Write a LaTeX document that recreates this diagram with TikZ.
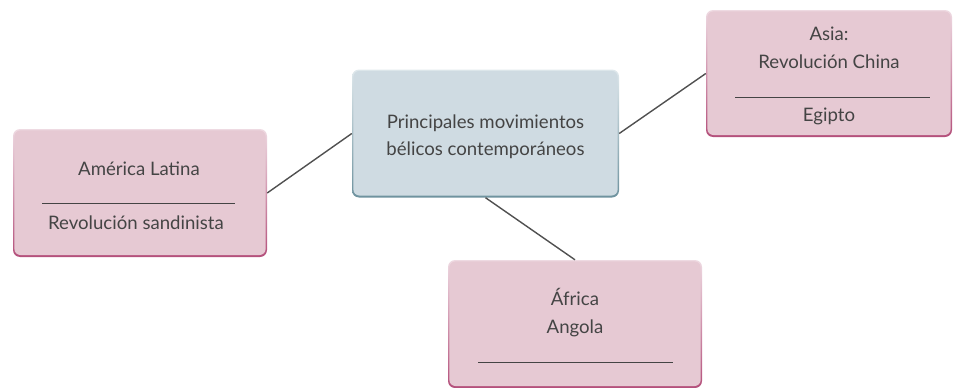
\documentclass[tikz,border=0pt]{standalone}
\usepackage{fontspec}
\setmainfont{Lato}
\definecolor{txt}{HTML}{444444}
\definecolor{pinkfill}{HTML}{E6C9D3}
\definecolor{pinktop}{HTML}{EEDAE2}
\definecolor{pinkbot}{HTML}{B4507B}
\definecolor{bluefill}{HTML}{CFDBE2}
\definecolor{bluetop}{HTML}{DFE8EC}
\definecolor{bluebot}{HTML}{6E929E}
\definecolor{conn}{HTML}{505050}
\tikzset{
  pinkbox/.style={rounded corners=7pt, top color=pinktop, bottom color=pinkbot, inner sep=0pt},
  bluebox/.style={rounded corners=7pt, top color=bluetop, bottom color=bluebot, inner sep=0pt},
  lbl/.style={anchor=base, text=txt, font=\fontsize{18.6}{22}\selectfont, inner sep=0pt},
  uline/.style={draw=txt, line width=0.9pt},
  connector/.style={draw=conn, line width=1.4pt},
}
\newcommand{\innerfill}[2]{%
  \fill[#2, rounded corners=6pt] ([shift={(1.6pt,-1.6pt)}]#1.north west) rectangle ([shift={(-1.6pt,2.2pt)}]#1.south east);}
\begin{document}
\begin{tikzpicture}[x=1pt,y=-1pt]
\useasboundingbox (0,0) rectangle (954,388);
% boxes
\node[bluebox, minimum width=267pt, minimum height=128pt] (center) at (485.5,133.5) {};
\innerfill{center}{bluefill}
\node[pinkbox, minimum width=254pt, minimum height=128pt] (left) at (140,193) {};
\innerfill{left}{pinkfill}
\node[pinkbox, minimum width=246pt, minimum height=127pt] (right) at (829,73.5) {};
\innerfill{right}{pinkfill}
\node[pinkbox, minimum width=254pt, minimum height=128pt] (bottom) at (575,324) {};
\innerfill{bottom}{pinkfill}
% connectors
\draw[connector] (left.east) -- (center.west);
\draw[connector] (center.east) -- (right.west);
\draw[connector] (center.south) -- (bottom.north);
% texts
\node[lbl] (c1) at (485.5,128) {Principales movimientos};
\node[lbl] (c2) at (485.5,155) {bélicos contemporáneos};
\node[lbl] (l1) at (139,175) {América Latina};
\coordinate (lu1) at (42,203); \coordinate (lu2) at (235,203);
\draw[uline] (lu1) -- (lu2);
\node[lbl] (l2) at (136,229) {Revolución sandinista};
\node[lbl] (r1) at (829,40) {Asia:};
\node[lbl] (r2) at (829,68) {Revolución China};
\coordinate (ru1) at (735,97); \coordinate (ru2) at (930,97);
\draw[uline] (ru1) -- (ru2);
\node[lbl] (r3) at (829,121) {Egipto};
\node[lbl] (b1) at (575,305) {África};
\node[lbl] (b2) at (575,333) {Angola};
\coordinate (bu1) at (478,362); \coordinate (bu2) at (673,362);
\draw[uline] (bu1) -- (bu2);
\end{tikzpicture}
\end{document}
